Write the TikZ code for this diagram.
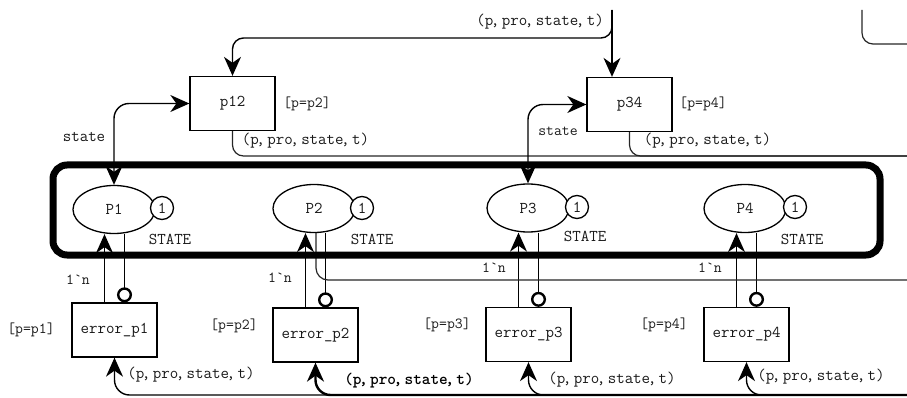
\documentclass[tikz,border=0pt]{standalone}
\usepackage{fontspec}
\usetikzlibrary{arrows.meta,shapes.geometric}
\pgfdeclarelayer{arcs}
\pgfsetlayers{arcs,main}

% tuple inscription with narrow commas
\newcommand{\cs}{\makebox[3.5pt][c]{,}\hspace{5pt}}
\newcommand{\tup}{(p\cs pro\cs state\cs t)}

\tikzset{
  txt/.style={text=black!90, inner sep=0pt, font=\ttfamily\fontsize{16.5pt}{18pt}\selectfont},
  small/.style={text=black!90, inner sep=0pt, font=\ttfamily\fontsize{15.3pt}{17pt}\selectfont},
  trans/.style={txt, draw=black, line width=1.3pt, fill=white, minimum width=85pt, minimum height=54pt},
  place/.style={txt, ellipse, draw=black, line width=1.3pt, fill=white, minimum width=82pt, minimum height=48pt},
  token/.style={txt, circle, draw=black, line width=1.3pt, fill=white, minimum size=23pt},
  arc/.style={line width=1.4pt, -{Stealth[length=19pt,width=17pt,inset=6pt]}},
  biarc/.style={line width=1.4pt, {Stealth[length=19pt,width=17pt,inset=6pt]}-{Stealth[length=19pt,width=17pt,inset=6pt]}},
  plain/.style={line width=1.2pt, draw=black!85},
  inh/.style={line width=1.4pt, -{Circle[length=15pt,width=15pt,line width=2.4pt,fill=white]}},
  fusion/.style={draw, line width=7pt, rounded corners=14pt, inner sep=0pt},
}

\begin{document}
\begin{tikzpicture}[x=1pt,y=-1pt]
\useasboundingbox (0,0) rectangle (907,398);

% transitions
\node[trans] (p12) at (232.5,103.5) {p12};
\node[trans] (p34) at (629.5,104.5) {p34};
\node[trans] (e1) at (114.5,330) {error\_p1};
\node[trans] (e2) at (315.5,335) {error\_p2};
\node[trans] (e3) at (528.5,334.5) {error\_p3};
\node[trans] (e4) at (746.5,334.5) {error\_p4};

% places with their initial tokens
\node[place] (P1) at (114,209.5) {P1};
\node[place] (P2) at (314,208.5) {P2};
\node[place] (P3) at (528,208) {P3};
\node[place] (P4) at (745,208.5) {P4};
\node[token] (k1) at (162,208) {1};
\node[token] (k2) at (362,208) {1};
\node[token] (k3) at (577,207) {1};
\node[token] (k4) at (795,207) {1};

% fusion set frame
\node[fusion, minimum width=827pt, minimum height=90pt] (fus) at (466.5,210) {};

% free ends of connectors
\coordinate (src) at (612,10);
\coordinate (bend) at (232.5,38);
\coordinate (outA) at (907,156);
\coordinate (cornerTop) at (862,10);
\coordinate (outB) at (907,44);
\coordinate (outC) at (907,280);
\coordinate (bot) at (907,395);

\begin{pgfonlayer}{arcs}
  \draw[arc, rounded corners=11pt] (src) |- (bend) -- (p12.north);
  \draw[arc] (src) -- (src |- p34.north);
  \draw[plain, rounded corners=11pt] (p12.south) |- (outA);
  \draw[plain, rounded corners=11pt] (p34.south) |- (outA);
  \draw[plain, rounded corners=11pt] (cornerTop) |- (outB);
  \draw[biarc, rounded corners=15pt] (P1.north) |- (p12.west);
  \draw[biarc, rounded corners=15pt] (P3.north) |- (p34.west);
  \foreach \t/\p in {e1/P1,e2/P2,e3/P3,e4/P4} {
    \draw[arc] ([xshift=-10pt]\t.north) -- ([xshift=-10pt]\t.north |- \p.south);
    \draw[inh] ([xshift=10pt]\t.north |- \p.south) -- ([xshift=10pt]\t.north);
  }
  \draw[plain, rounded corners=12pt] ([xshift=2pt]P2.south) |- (outC);
  \draw[arc, rounded corners=15pt] (bot) -| (e1.south);
  \draw[arc, line width=2.4pt, rounded corners=15pt] (bot) -| (e2.south);
  \draw[arc, rounded corners=15pt] (bot) -| (e3.south);
  \draw[arc, rounded corners=15pt] (bot) -| (e4.south);
\end{pgfonlayer}

% inscriptions
\node[txt, anchor=east] (i0) at (604,22) {\tup};
\node[txt] (s1) at (84,137) {state};
\node[small] (s3) at (558,131) {state};
\node[small] (g12) at (307,104) {[p=p2]};
\node[small] (g34) at (703,104) {[p=p4]};
\node[txt] (o12) at (305.5,141) {\tup};
\node[txt] (o34) at (707.5,141) {\tup};
\node[txt] (c1) at (170,239) {STATE};
\node[txt] (c2) at (372,239) {STATE};
\node[txt] (c3) at (585,236) {STATE};
\node[txt] (c4) at (802,239) {STATE};
\node[small] (n1) at (78,280) {1\textasciigrave n};
\node[small] (n2) at (280,278) {1\textasciigrave n};
\node[small] (n3) at (494,268) {1\textasciigrave n};
\node[small] (n4) at (710,268) {1\textasciigrave n};
\node[small] (g1) at (31,330) {[p=p1]};
\node[small] (g2) at (234,326) {[p=p2]};
\node[small] (g3) at (447,325) {[p=p3]};
\node[small] (g4) at (664,325) {[p=p4]};
\node[txt] (b1) at (191,375) {\tup};
\node[txt, text=black, font=\ttfamily\bfseries\fontsize{16.5pt}{18pt}\selectfont] (b2) at (409,381) {\tup};
\node[txt] (b3) at (612,380) {\tup};
\node[txt] (b4) at (821,377) {\tup};
\end{tikzpicture}
\end{document}
